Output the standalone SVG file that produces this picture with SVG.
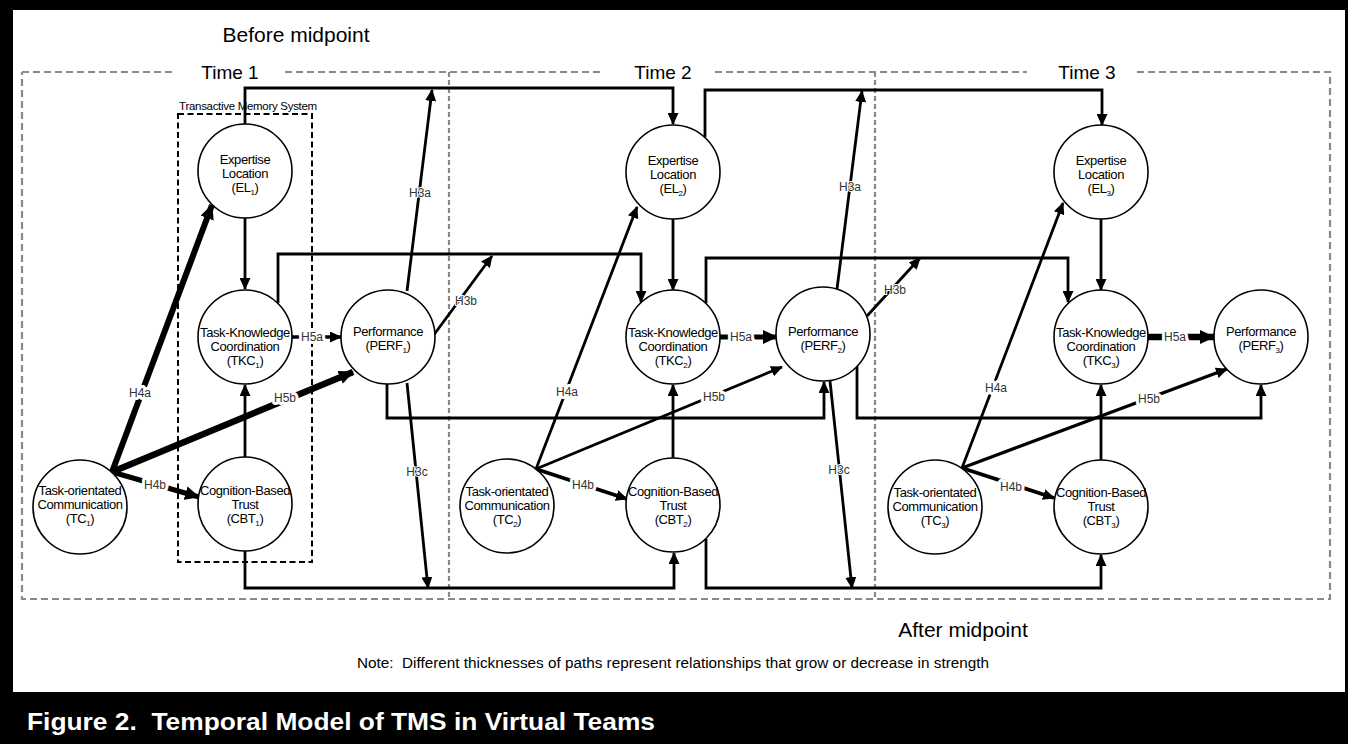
<svg xmlns="http://www.w3.org/2000/svg" width="1348" height="744" viewBox="0 0 1348 744">
<style>
text{font-family:"Liberation Sans",Arial,sans-serif}
.c{fill:#fff;stroke:#000;stroke-width:1.6}
.t{font-size:13px;letter-spacing:-0.4px;text-anchor:middle;fill:#000}
.ln{fill:none;stroke:#000;stroke-width:2.8;marker-end:url(#ah)}
.lb{font-size:12px;fill:#333;text-anchor:middle;stroke:#fff;stroke-width:6;paint-order:stroke;stroke-linejoin:round}
.lb3{font-size:12px;fill:#333;text-anchor:middle;stroke:#fff;stroke-width:2;paint-order:stroke}
.gd{stroke:#8a8a8a;stroke-width:2.2;stroke-dasharray:7 4;fill:none}
.hd{font-size:19px;text-anchor:middle;fill:#000}
.sub{font-size:8px}
</style>
<defs>
<marker id="ah" viewBox="0 0 12 11" refX="11" refY="5.5" markerWidth="12" markerHeight="11" markerUnits="userSpaceOnUse" orient="auto"><path d="M0,0 L12,5.5 L0,11 z" fill="#000"/></marker>
<marker id="ahL" viewBox="0 0 15 14" refX="14" refY="7" markerWidth="15" markerHeight="14" markerUnits="userSpaceOnUse" orient="auto"><path d="M0,0 L15,7 L0,14 z" fill="#000"/></marker>
</defs>
<rect x="0" y="0" width="1348" height="744" fill="#000"/>
<rect x="13" y="10" width="1332" height="682" fill="#fff"/>

<g id="frame">
<text x="296" y="42" style="font-size:21px" text-anchor="middle">Before midpoint</text>
<text x="963" y="637" style="font-size:21px" text-anchor="middle">After midpoint</text>
<path class="gd" d="M22,72 H175 M285,72 H603 M715,72 H1027 M1137,72 H1330 V599 H22 V72"/>
<path class="gd" style="stroke-dasharray:5 3" d="M449,72 V599 M875,72 V599"/>
<text class="hd" x="230" y="79">Time 1</text>
<text class="hd" x="663" y="79">Time 2</text>
<text class="hd" x="1087" y="79">Time 3</text>
<rect x="178" y="114" width="134" height="448" fill="none" stroke="#000" stroke-width="2" stroke-dasharray="6 3.5"/>
<text x="248" y="110" style="font-size:11.5px;letter-spacing:-0.3px" text-anchor="middle">Transactive Memory System</text>
</g>

<g id="connectors">
<!-- Time 1 -->
<path class="ln" d="M245,218 L245,289"/>
<path class="ln" d="M245,457 L245,385"/>
<path class="ln" d="M245,124 V88 H673 V124"/>
<path class="ln" d="M278,303 V254 H641 V302"/>
<path class="ln" d="M387,384 V418 H824 V382"/>
<path class="ln" d="M245,551 V588 H674 V553"/>
<path class="ln" d="M407,291 L432,90"/>
<path class="ln" d="M433,336 L492,256"/>
<path class="ln" d="M407,383 L428,588"/>
<path class="ln" style="stroke-width:3.5" d="M292,337 L341,337"/>
<path class="ln" style="stroke-width:6;marker-end:url(#ahL)" d="M112,472 L212,205"/>
<path class="ln" style="stroke-width:6.5;marker-end:url(#ahL)" d="M112,472 L353,372"/>
<path class="ln" style="stroke-width:5;marker-end:url(#ahL)" d="M112,472 L199,497"/>
<!-- Time 2 -->
<path class="ln" d="M673,219 L673,290"/>
<path class="ln" d="M673,458 L673,385"/>
<path class="ln" d="M705,137 V90 H1102 V125"/>
<path class="ln" d="M706,303 V258 H1068 V302"/>
<path class="ln" d="M857,366 V418 H1261 V385"/>
<path class="ln" d="M706,539 V588 H1101 V555"/>
<path class="ln" d="M837,289 L862,91"/>
<path class="ln" d="M867,316 L920,258"/>
<path class="ln" d="M830,381 L852,588"/>
<path class="ln" style="stroke-width:5;marker-end:url(#ahL)" d="M720,337 L777,337"/>
<path class="ln" d="M536,469 L637,207"/>
<path class="ln" d="M536,469 L782,367"/>
<path class="ln" style="stroke-width:3.8" d="M536,469 L627,499"/>
<!-- Time 3 -->
<path class="ln" d="M1101,219 L1101,290"/>
<path class="ln" d="M1101,460 L1101,385"/>
<path class="ln" style="stroke-width:6.5;marker-end:url(#ahL)" d="M1148,337 L1214,337"/>
<path class="ln" d="M962,468 L1063,203"/>
<path class="ln" style="stroke-width:3.3" d="M962,468 L1227,369"/>
<path class="ln" style="stroke-width:3.8" d="M962,468 L1054,498"/>
<!-- labels -->
<text class="lb" x="312" y="341">H5a</text>
<text class="lb" x="140" y="397">H4a</text>
<text class="lb" x="285" y="402">H5b</text>
<text class="lb" x="155" y="489">H4b</text>
<text class="lb3" x="420" y="197">H3a</text>
<text class="lb3" x="466" y="305">H3b</text>
<text class="lb3" x="417" y="476">H3c</text>
<text class="lb" x="741" y="341">H5a</text>
<text class="lb" x="567" y="396">H4a</text>
<text class="lb" x="714" y="401">H5b</text>
<text class="lb" x="583" y="489">H4b</text>
<text class="lb3" x="850" y="191">H3a</text>
<text class="lb3" x="895" y="294">H3b</text>
<text class="lb3" x="839" y="474">H3c</text>
<text class="lb" x="1175" y="341">H5a</text>
<text class="lb" x="996" y="392">H4a</text>
<text class="lb" x="1149" y="403">H5b</text>
<text class="lb" x="1011" y="491">H4b</text>
</g>

<g id="EL1"><circle class="c" cx="245" cy="171" r="47"/>
<text class="t" x="245" y="164">Expertise</text><text class="t" x="245" y="178">Location</text>
<text class="t" x="245" y="192">(EL<tspan class="sub" dy="3">1</tspan><tspan dy="-3">)</tspan></text></g>
<g id="TKC1"><circle class="c" cx="245" cy="337" r="47"/>
<text class="t" x="245" y="337">Task-Knowledge</text><text class="t" x="245" y="351">Coordination</text>
<text class="t" x="245" y="365">(TKC<tspan class="sub" dy="3">1</tspan><tspan dy="-3">)</tspan></text></g>
<g id="PERF1"><circle class="c" cx="388" cy="337" r="47"/>
<text class="t" x="388" y="336">Performance</text>
<text class="t" x="388" y="350">(PERF<tspan class="sub" dy="3">1</tspan><tspan dy="-3">)</tspan></text></g>
<g id="CBT1"><circle class="c" cx="245" cy="504" r="47"/>
<text class="t" x="245" y="495">Cognition-Based</text><text class="t" x="245" y="509">Trust</text>
<text class="t" x="245" y="523">(CBT<tspan class="sub" dy="3">1</tspan><tspan dy="-3">)</tspan></text></g>
<g id="TC1"><circle class="c" cx="80" cy="507" r="47"/>
<text class="t" x="80" y="495">Task-orientated</text><text class="t" x="80" y="509">Communication</text>
<text class="t" x="80" y="523">(TC<tspan class="sub" dy="3">1</tspan><tspan dy="-3">)</tspan></text></g>

<g id="EL2"><circle class="c" cx="673" cy="172" r="47"/>
<text class="t" x="673" y="165">Expertise</text><text class="t" x="673" y="179">Location</text>
<text class="t" x="673" y="193">(EL<tspan class="sub" dy="3">2</tspan><tspan dy="-3">)</tspan></text></g>
<g id="TKC2"><circle class="c" cx="673" cy="337" r="47"/>
<text class="t" x="673" y="337">Task-Knowledge</text><text class="t" x="673" y="351">Coordination</text>
<text class="t" x="673" y="365">(TKC<tspan class="sub" dy="3">2</tspan><tspan dy="-3">)</tspan></text></g>
<g id="PERF2"><circle class="c" cx="823" cy="334" r="47"/>
<text class="t" x="823" y="336">Performance</text>
<text class="t" x="823" y="350">(PERF<tspan class="sub" dy="3">2</tspan><tspan dy="-3">)</tspan></text></g>
<g id="CBT2"><circle class="c" cx="673" cy="505" r="47"/>
<text class="t" x="673" y="496">Cognition-Based</text><text class="t" x="673" y="510">Trust</text>
<text class="t" x="673" y="524">(CBT<tspan class="sub" dy="3">2</tspan><tspan dy="-3">)</tspan></text></g>
<g id="TC2"><circle class="c" cx="507" cy="506" r="47"/>
<text class="t" x="507" y="496">Task-orientated</text><text class="t" x="507" y="510">Communication</text>
<text class="t" x="507" y="524">(TC<tspan class="sub" dy="3">2</tspan><tspan dy="-3">)</tspan></text></g>

<g id="EL3"><circle class="c" cx="1101" cy="172" r="47"/>
<text class="t" x="1101" y="165">Expertise</text><text class="t" x="1101" y="179">Location</text>
<text class="t" x="1101" y="193">(EL<tspan class="sub" dy="3">3</tspan><tspan dy="-3">)</tspan></text></g>
<g id="TKC3"><circle class="c" cx="1101" cy="337" r="47"/>
<text class="t" x="1101" y="337">Task-Knowledge</text><text class="t" x="1101" y="351">Coordination</text>
<text class="t" x="1101" y="365">(TKC<tspan class="sub" dy="3">3</tspan><tspan dy="-3">)</tspan></text></g>
<g id="PERF3"><circle class="c" cx="1261" cy="337" r="47"/>
<text class="t" x="1261" y="336">Performance</text>
<text class="t" x="1261" y="350">(PERF<tspan class="sub" dy="3">3</tspan><tspan dy="-3">)</tspan></text></g>
<g id="CBT3"><circle class="c" cx="1101" cy="507" r="47"/>
<text class="t" x="1101" y="497">Cognition-Based</text><text class="t" x="1101" y="511">Trust</text>
<text class="t" x="1101" y="525">(CBT<tspan class="sub" dy="3">3</tspan><tspan dy="-3">)</tspan></text></g>
<g id="TC3"><circle class="c" cx="935" cy="507" r="47"/>
<text class="t" x="935" y="497">Task-orientated</text><text class="t" x="935" y="511">Communication</text>
<text class="t" x="935" y="525">(TC<tspan class="sub" dy="3">3</tspan><tspan dy="-3">)</tspan></text></g>

<g id="notes">
<text x="673" y="668" text-anchor="middle" style="font-size:14px" textLength="632" lengthAdjust="spacingAndGlyphs">Note:&#160; Different thicknesses of paths represent relationships that grow or decrease in strength</text>
<text x="27" y="730" fill="#fff" style="font-size:24px;font-weight:bold" textLength="628" lengthAdjust="spacingAndGlyphs">Figure 2.&#160; Temporal Model of TMS in Virtual Teams</text>
</g>
</svg>
